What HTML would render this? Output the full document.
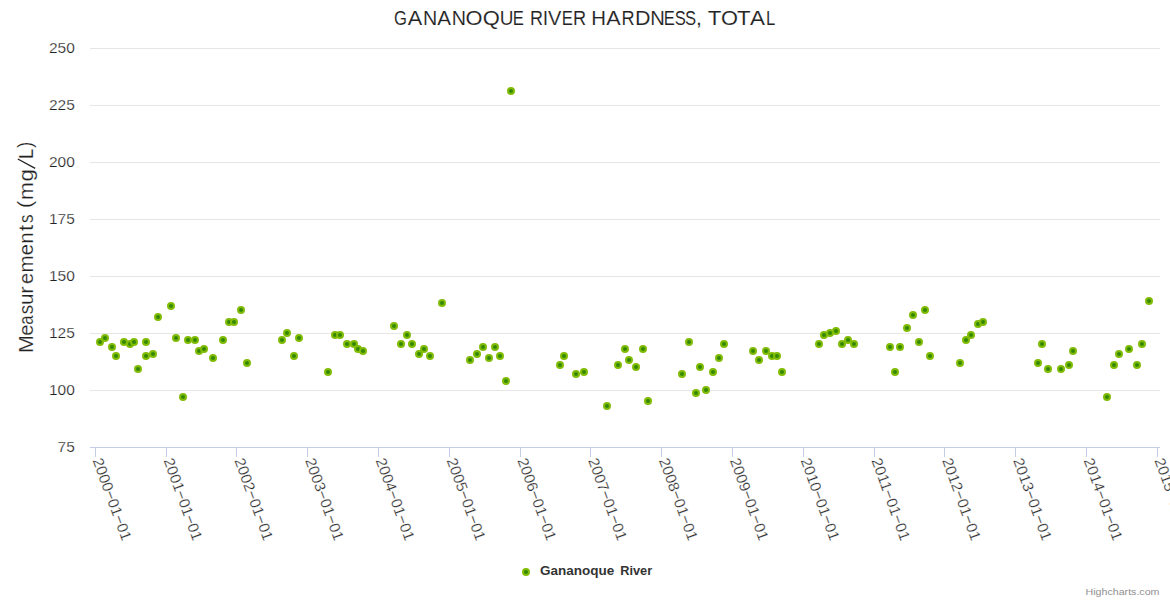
<!DOCTYPE html>
<html>
<head>
<meta charset="utf-8">
<title>Gananoque River Hardness, Total</title>
<style>
html, body { margin:0; padding:0; background:#ffffff; }
body { width:1170px; height:600px; overflow:hidden; font-family:"Liberation Sans", sans-serif; }
svg { display:block; }
text { font-family:"Liberation Sans", sans-serif; }
</style>
</head>
<body>
<svg width="1170" height="600" viewBox="0 0 1170 600">
<rect x="0" y="0" width="1170" height="600" fill="#ffffff"/>

<g stroke="#e6e6e6" stroke-width="1" shape-rendering="crispEdges">
<path d="M90 48.5 L1160 48.5"/>
<path d="M90 105.5 L1160 105.5"/>
<path d="M90 162.5 L1160 162.5"/>
<path d="M90 219.5 L1160 219.5"/>
<path d="M90 276.5 L1160 276.5"/>
<path d="M90 333.5 L1160 333.5"/>
<path d="M90 390.5 L1160 390.5"/>
</g>
<g stroke="#c3cde8" stroke-width="1" fill="none" shape-rendering="crispEdges">
<path d="M90 447.5 L1160 447.5"/>
<path d="M95.5 447.5 L95.5 457"/>
<path d="M166.5 447.5 L166.5 457"/>
<path d="M236.5 447.5 L236.5 457"/>
<path d="M307.5 447.5 L307.5 457"/>
<path d="M378.5 447.5 L378.5 457"/>
<path d="M449.5 447.5 L449.5 457"/>
<path d="M520.5 447.5 L520.5 457"/>
<path d="M590.5 447.5 L590.5 457"/>
<path d="M661.5 447.5 L661.5 457"/>
<path d="M732.5 447.5 L732.5 457"/>
<path d="M803.5 447.5 L803.5 457"/>
<path d="M874.5 447.5 L874.5 457"/>
<path d="M944.5 447.5 L944.5 457"/>
<path d="M1015.5 447.5 L1015.5 457"/>
<path d="M1086.5 447.5 L1086.5 457"/>
<path d="M1157.5 447.5 L1157.5 457"/>
</g>
<g font-size="19.6" fill="#222222" stroke="#ffffff" stroke-width="0.12">
<text transform="translate(394.12,24.6) scale(0.850,1)">G</text>
<text transform="translate(407.86,24.6) scale(1.108,1)">A</text>
<text transform="translate(422.88,24.6) scale(1.005,1)">N</text>
<text transform="translate(437.26,24.6) scale(1.054,1)">A</text>
<text transform="translate(451.78,24.6) scale(1.005,1)">N</text>
<text transform="translate(465.57,24.6) scale(1.114,1)">O</text>
<text transform="translate(482.86,24.6) scale(1.121,1)">Q</text>
<text transform="translate(499.83,24.6) scale(0.970,1)">U</text>
<text transform="translate(512.72,24.6) scale(0.850,1)">E</text>
<text transform="translate(529.92,24.6) scale(0.919,1)">R</text>
<text transform="translate(542.72,24.6) scale(0.985,1)">I</text>
<text transform="translate(548.01,24.6) scale(1.023,1)">V</text>
<text transform="translate(561.72,24.6) scale(0.850,1)">E</text>
<text transform="translate(572.91,24.6) scale(0.928,1)">R</text>
<text transform="translate(591.33,24.6) scale(1.041,1)">H</text>
<text transform="translate(606.16,24.6) scale(1.100,1)">A</text>
<text transform="translate(621.41,24.6) scale(0.928,1)">R</text>
<text transform="translate(634.94,24.6) scale(1.094,1)">D</text>
<text transform="translate(650.34,24.6) scale(1.032,1)">N</text>
<text transform="translate(663.82,24.6) scale(0.850,1)">E</text>
<text transform="translate(674.65,24.6) scale(0.850,1)">S</text>
<text transform="translate(685.00,24.6) scale(0.850,1)">S</text>
<text transform="translate(695.87,24.6) scale(1.150,1)">,</text>
<text transform="translate(707.70,24.6) scale(1.137,1)">T</text>
<text transform="translate(720.97,24.6) scale(1.114,1)">O</text>
<text transform="translate(737.00,24.6) scale(1.137,1)">T</text>
<text transform="translate(750.06,24.6) scale(1.146,1)">A</text>
<text transform="translate(765.96,24.6) scale(0.850,1)">L</text>
</g>
<g font-size="15.5" fill="#222222" text-anchor="end" stroke="#ffffff" stroke-width="0.25">
<text x="74.8" y="53.0">250</text>
<text x="74.8" y="110.0">225</text>
<text x="74.8" y="167.0">200</text>
<text x="74.8" y="224.0">175</text>
<text x="74.8" y="281.0">150</text>
<text x="74.8" y="338.0">125</text>
<text x="74.8" y="395.0">100</text>
<text x="74.8" y="452.0">75</text>
</g>
<g font-size="19.5" fill="#222222" stroke="#ffffff" stroke-width="0.2">
<text transform="translate(33.4,353.01) rotate(-90) scale(1.100,1)">M</text>
<text transform="translate(33.4,335.85) rotate(-90) scale(1.027,1)">e</text>
<text transform="translate(33.4,324.76) rotate(-90) scale(0.850,1)">a</text>
<text transform="translate(33.4,314.27) rotate(-90) scale(0.959,1)">s</text>
<text transform="translate(33.4,305.09) rotate(-90) scale(1.056,1)">u</text>
<text transform="translate(33.4,293.67) rotate(-90) scale(1.150,1)">r</text>
<text transform="translate(33.4,283.95) rotate(-90) scale(1.022,1)">e</text>
<text transform="translate(33.4,272.61) rotate(-90) scale(1.050,1)">m</text>
<text transform="translate(33.4,255.25) rotate(-90) scale(1.027,1)">e</text>
<text transform="translate(33.4,243.87) rotate(-90) scale(1.056,1)">n</text>
<text transform="translate(33.4,231.03) rotate(-90) scale(1.150,1)">t</text>
<text transform="translate(33.4,222.98) rotate(-90) scale(0.882,1)">s</text>
<text transform="translate(32.1,208.07) rotate(-90) scale(1.093,1)">(</text>
<text transform="translate(33.4,200.02) rotate(-90) scale(1.098,1)">m</text>
<text transform="translate(33.4,181.48) rotate(-90) scale(1.150,1)">g</text>
<path d="M35.2 168.3 L17.8 159.0" stroke="#222222" stroke-width="1.35" fill="none"/>
<text transform="translate(33.4,158.92) rotate(-90) scale(0.948,1)">L</text>
<text transform="translate(32.1,148.11) rotate(-90) scale(0.967,1)">)</text>
</g>
<g font-size="15" fill="#222222" stroke="#ffffff" stroke-width="0.25">
<text transform="translate(92.5,460.3) rotate(70)" textLength="86.5" lengthAdjust="spacingAndGlyphs">2000−01−01</text>
<text transform="translate(163.4,460.3) rotate(70)" textLength="86.5" lengthAdjust="spacingAndGlyphs">2001−01−01</text>
<text transform="translate(234.2,460.3) rotate(70)" textLength="86.5" lengthAdjust="spacingAndGlyphs">2002−01−01</text>
<text transform="translate(304.9,460.3) rotate(70)" textLength="86.5" lengthAdjust="spacingAndGlyphs">2003−01−01</text>
<text transform="translate(375.6,460.3) rotate(70)" textLength="86.5" lengthAdjust="spacingAndGlyphs">2004−01−01</text>
<text transform="translate(446.6,460.3) rotate(70)" textLength="86.5" lengthAdjust="spacingAndGlyphs">2005−01−01</text>
<text transform="translate(517.3,460.3) rotate(70)" textLength="86.5" lengthAdjust="spacingAndGlyphs">2006−01−01</text>
<text transform="translate(588.0,460.3) rotate(70)" textLength="86.5" lengthAdjust="spacingAndGlyphs">2007−01−01</text>
<text transform="translate(658.8,460.3) rotate(70)" textLength="86.5" lengthAdjust="spacingAndGlyphs">2008−01−01</text>
<text transform="translate(729.7,460.3) rotate(70)" textLength="86.5" lengthAdjust="spacingAndGlyphs">2009−01−01</text>
<text transform="translate(800.5,460.3) rotate(70)" textLength="86.5" lengthAdjust="spacingAndGlyphs">2010−01−01</text>
<text transform="translate(871.2,460.3) rotate(70)" textLength="86.5" lengthAdjust="spacingAndGlyphs">2011−01−01</text>
<text transform="translate(941.9,460.3) rotate(70)" textLength="86.5" lengthAdjust="spacingAndGlyphs">2012−01−01</text>
<text transform="translate(1012.9,460.3) rotate(70)" textLength="86.5" lengthAdjust="spacingAndGlyphs">2013−01−01</text>
<text transform="translate(1083.6,460.3) rotate(70)" textLength="86.5" lengthAdjust="spacingAndGlyphs">2014−01−01</text>
<text transform="translate(1154.3,460.3) rotate(70)" textLength="86.5" lengthAdjust="spacingAndGlyphs">2015−01−01</text>
</g>
<g fill="#338805" stroke="#82bc06" stroke-width="2">
<circle cx="100" cy="342" r="3"/>
<circle cx="105" cy="338" r="3"/>
<circle cx="112" cy="347" r="3"/>
<circle cx="116" cy="356" r="3"/>
<circle cx="124" cy="342" r="3"/>
<circle cx="130" cy="344" r="3"/>
<circle cx="134" cy="342" r="3"/>
<circle cx="138" cy="369" r="3"/>
<circle cx="146" cy="342" r="3"/>
<circle cx="146" cy="356" r="3"/>
<circle cx="153" cy="354" r="3"/>
<circle cx="158" cy="317" r="3"/>
<circle cx="171" cy="306" r="3"/>
<circle cx="176" cy="338" r="3"/>
<circle cx="183" cy="397" r="3"/>
<circle cx="188" cy="340" r="3"/>
<circle cx="195" cy="340" r="3"/>
<circle cx="199" cy="351" r="3"/>
<circle cx="204" cy="349" r="3"/>
<circle cx="213" cy="358" r="3"/>
<circle cx="223" cy="340" r="3"/>
<circle cx="229" cy="322" r="3"/>
<circle cx="234" cy="322" r="3"/>
<circle cx="241" cy="310" r="3"/>
<circle cx="247" cy="363" r="3"/>
<circle cx="282" cy="340" r="3"/>
<circle cx="287" cy="333" r="3"/>
<circle cx="294" cy="356" r="3"/>
<circle cx="299" cy="338" r="3"/>
<circle cx="328" cy="372" r="3"/>
<circle cx="335" cy="335" r="3"/>
<circle cx="340" cy="335" r="3"/>
<circle cx="347" cy="344" r="3"/>
<circle cx="354" cy="344" r="3"/>
<circle cx="358" cy="349" r="3"/>
<circle cx="363" cy="351" r="3"/>
<circle cx="394" cy="326" r="3"/>
<circle cx="401" cy="344" r="3"/>
<circle cx="407" cy="335" r="3"/>
<circle cx="412" cy="344" r="3"/>
<circle cx="419" cy="354" r="3"/>
<circle cx="424" cy="349" r="3"/>
<circle cx="430" cy="356" r="3"/>
<circle cx="442" cy="303" r="3"/>
<circle cx="470" cy="360" r="3"/>
<circle cx="477" cy="354" r="3"/>
<circle cx="483" cy="347" r="3"/>
<circle cx="489" cy="358" r="3"/>
<circle cx="495" cy="347" r="3"/>
<circle cx="500" cy="356" r="3"/>
<circle cx="506" cy="381" r="3"/>
<circle cx="511" cy="91" r="3"/>
<circle cx="560" cy="365" r="3"/>
<circle cx="564" cy="356" r="3"/>
<circle cx="576" cy="374" r="3"/>
<circle cx="584" cy="372" r="3"/>
<circle cx="607" cy="406" r="3"/>
<circle cx="618" cy="365" r="3"/>
<circle cx="625" cy="349" r="3"/>
<circle cx="629" cy="360" r="3"/>
<circle cx="636" cy="367" r="3"/>
<circle cx="643" cy="349" r="3"/>
<circle cx="648" cy="401" r="3"/>
<circle cx="682" cy="374" r="3"/>
<circle cx="689" cy="342" r="3"/>
<circle cx="696" cy="393" r="3"/>
<circle cx="700" cy="367" r="3"/>
<circle cx="706" cy="390" r="3"/>
<circle cx="713" cy="372" r="3"/>
<circle cx="719" cy="358" r="3"/>
<circle cx="724" cy="344" r="3"/>
<circle cx="753" cy="351" r="3"/>
<circle cx="759" cy="360" r="3"/>
<circle cx="766" cy="351" r="3"/>
<circle cx="772" cy="356" r="3"/>
<circle cx="777" cy="356" r="3"/>
<circle cx="782" cy="372" r="3"/>
<circle cx="819" cy="344" r="3"/>
<circle cx="824" cy="335" r="3"/>
<circle cx="830" cy="333" r="3"/>
<circle cx="836" cy="331" r="3"/>
<circle cx="842" cy="344" r="3"/>
<circle cx="848" cy="340" r="3"/>
<circle cx="854" cy="344" r="3"/>
<circle cx="890" cy="347" r="3"/>
<circle cx="895" cy="372" r="3"/>
<circle cx="900" cy="347" r="3"/>
<circle cx="907" cy="328" r="3"/>
<circle cx="913" cy="315" r="3"/>
<circle cx="919" cy="342" r="3"/>
<circle cx="925" cy="310" r="3"/>
<circle cx="930" cy="356" r="3"/>
<circle cx="960" cy="363" r="3"/>
<circle cx="966" cy="340" r="3"/>
<circle cx="971" cy="335" r="3"/>
<circle cx="978" cy="324" r="3"/>
<circle cx="983" cy="322" r="3"/>
<circle cx="1038" cy="363" r="3"/>
<circle cx="1042" cy="344" r="3"/>
<circle cx="1048" cy="369" r="3"/>
<circle cx="1061" cy="369" r="3"/>
<circle cx="1069" cy="365" r="3"/>
<circle cx="1073" cy="351" r="3"/>
<circle cx="1107" cy="397" r="3"/>
<circle cx="1114" cy="365" r="3"/>
<circle cx="1119" cy="354" r="3"/>
<circle cx="1129" cy="349" r="3"/>
<circle cx="1137" cy="365" r="3"/>
<circle cx="1142" cy="344" r="3"/>
<circle cx="1149" cy="301" r="3"/>
</g>
<circle cx="526" cy="572" r="3" fill="#338805" stroke="#82bc06" stroke-width="2"/>
<g font-size="12" font-weight="bold" fill="#333333"><text x="540" y="575.4" textLength="74.2" lengthAdjust="spacingAndGlyphs">Gananoque</text><text x="620.2" y="575.4" textLength="32" lengthAdjust="spacingAndGlyphs">River</text></g>
<text x="1159.5" y="595" text-anchor="end" font-size="9.5" fill="#909090" textLength="74" lengthAdjust="spacingAndGlyphs">Highcharts.com</text>
</svg>
</body>
</html>
